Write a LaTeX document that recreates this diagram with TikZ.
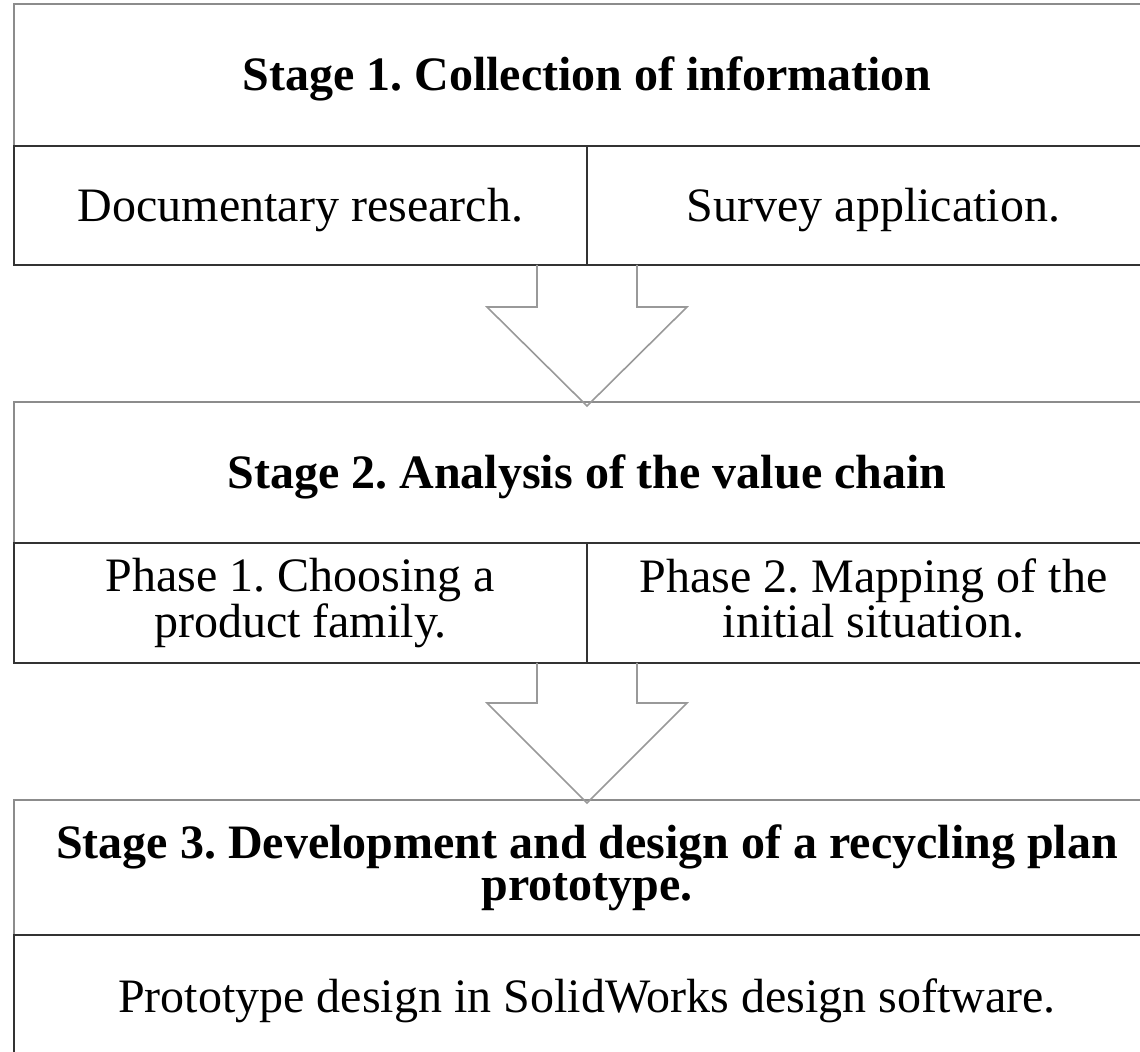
\documentclass[tikz,border=0pt]{standalone}
\usepackage{fontspec}
\setmainfont{Liberation Serif}
\usetikzlibrary{positioning}
\frenchspacing

\tikzset{
  headbox/.style={draw=black!45, line width=1pt, shape=rectangle, outer sep=0pt, minimum width=573pt, align=center, font=\fontsize{24}{21}\selectfont\bfseries},
  subbox/.style={draw=black!80, line width=1pt, shape=rectangle, outer sep=0pt, minimum width=286.5pt, align=center, text depth=5pt, font=\fontsize{24}{21.5}\selectfont},
  oneline/.style={text height=21pt, text depth=5pt},
  blockarrow/.style={draw=black!40, line width=0.8pt}
}

\begin{document}
\begin{tikzpicture}[x=0.5pt, y=-0.5pt]
\useasboundingbox (0,0) rectangle (1140,1052);
% stage 1
\node[headbox, oneline, minimum height=71pt, anchor=north west] (s1) at (14,4) {Stage 1. Collection of information};
\node[subbox, oneline, minimum height=59.5pt, below=0pt of s1.south west, anchor=north west] (s1a) {Documentary research.};
\node[subbox, oneline, minimum height=59.5pt, right=0pt of s1a] (s1b) {Survey application.};
% stage 2
\node[headbox, oneline, minimum height=70.5pt, below=68.5pt of s1a.south west, anchor=north west] (s2) {Stage 2. Analysis of the value chain};
\node[subbox, minimum height=60pt, below=0pt of s2.south west, anchor=north west] (s2a) {Phase 1. Choosing a\\product family.};
\node[subbox, minimum height=60pt, right=0pt of s2a] (s2b) {Phase 2. Mapping of the\\initial situation.};
% stage 3
\node[headbox, minimum height=67.5pt, below=68.5pt of s2a.south west, anchor=north west] (s3) {Stage 3. Development and design of a recycling plan\\prototype.};
\node[subbox, oneline, minimum width=573pt, minimum height=61.5pt, below=0pt of s3.south west, anchor=north west] (s3a) {Prototype design in SolidWorks design software.};
% block arrows
\draw[blockarrow] ([xshift=-25pt]s1a.south east) -- ++(0,42) -- ++(-50,0) -- ([yshift=-2pt]s2.north) -- ++(100,-99) -- ++(-50,0) -- ([xshift=25pt]s1a.south east);
\draw[blockarrow] ([xshift=-25pt]s2a.south east) -- ++(0,40) -- ++(-50,0) -- ([yshift=-1.5pt]s3.north) -- ++(100,-100) -- ++(-50,0) -- ([xshift=25pt]s2a.south east);
\end{tikzpicture}
\end{document}
